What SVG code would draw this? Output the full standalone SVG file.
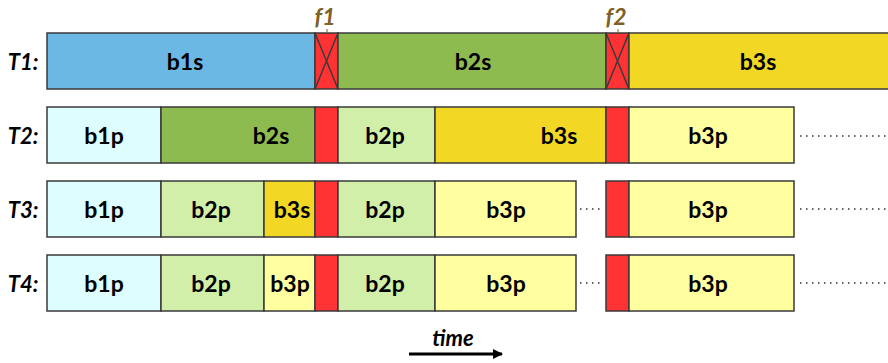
<svg xmlns="http://www.w3.org/2000/svg" width="888" height="363" viewBox="0 0 888 363">
<style>
.b{stroke:#3a3a3a;stroke-width:1.5}
.t{font-family:Lato,"Open Sans",sans-serif;font-weight:bold;font-size:23px;fill:#000;text-anchor:middle;dominant-baseline:central}
.rl{font-family:Lato,"Open Sans",sans-serif;font-weight:bold;font-style:italic;font-size:22px;fill:#000;text-anchor:middle;dominant-baseline:central}
.f{font-family:Lato,"Open Sans",sans-serif;font-weight:bold;font-style:italic;font-size:23px;fill:#7F6026;text-anchor:middle}
.cy{fill:#DDFDFF}.bl{fill:#6CB8E4}.dg{fill:#8DBB50}.lg{fill:#D2EFAA}.ye{fill:#F2D824}.ly{fill:#FFFF9F}.rd{fill:#FF3333}
.dot{stroke:#333;stroke-width:1.5;stroke-dasharray:1.5 4.5;fill:none}
</style>
<defs>
<marker id="ah" markerWidth="10" markerHeight="10" refX="9" refY="5" orient="auto" markerUnits="userSpaceOnUse"><path d="M0,0 L10,5 L0,10 z" fill="#000"/></marker>
</defs>
<g id="labels">
<text class="rl" x="23" y="61">T1:</text>
<text class="rl" x="23" y="135">T2:</text>
<text class="rl" x="23" y="209">T3:</text>
<text class="rl" x="23" y="283">T4:</text>
</g>
<g id="T1">
<rect class="b bl" x="47" y="33" width="268" height="56"/>
<text class="t" x="185" y="61">b1s</text>
<rect class="b rd" x="315" y="33" width="23" height="56"/>
<path class="b" d="M315,33 L338,89 M338,33 L315,89" fill="none"/>
<rect class="b dg" x="338" y="33" width="268" height="56"/>
<text class="t" x="473" y="61">b2s</text>
<rect class="b rd" x="606" y="33" width="23" height="56"/>
<path class="b" d="M606,33 L629,89 M629,33 L606,89" fill="none"/>
<rect class="b ye" x="629" y="33" width="262" height="56"/>
<text class="t" x="758" y="61">b3s</text>
</g>
<g id="faults">
<text class="f" x="325" y="25">f1</text>
<line x1="327" y1="29" x2="327" y2="33" stroke="#7F6026" stroke-width="1"/>
<text class="f" x="616" y="25">f2</text>
<line x1="618" y1="29" x2="618" y2="33" stroke="#7F6026" stroke-width="1"/>
</g>
<g id="T2">
<rect class="b cy" x="47" y="107" width="114" height="56"/>
<text class="t" x="104" y="135">b1p</text>
<rect class="b dg" x="161" y="107" width="154" height="56"/>
<text class="t" x="271" y="135">b2s</text>
<rect class="b rd" x="315" y="107" width="23" height="56"/>
<rect class="b lg" x="338" y="107" width="97" height="56"/>
<text class="t" x="385" y="135">b2p</text>
<rect class="b ye" x="435" y="107" width="171" height="56"/>
<text class="t" x="559" y="135">b3s</text>
<rect class="b rd" x="606" y="107" width="23" height="56"/>
<rect class="b ly" x="629" y="107" width="165" height="56"/>
<text class="t" x="708" y="135">b3p</text>
</g>
<g id="T3">
<rect class="b cy" x="47" y="181" width="114" height="56"/>
<text class="t" x="104" y="209">b1p</text>
<rect class="b lg" x="161" y="181" width="103" height="56"/>
<text class="t" x="211" y="209">b2p</text>
<rect class="b ye" x="264" y="181" width="51" height="56"/>
<text class="t" x="292" y="209">b3s</text>
<rect class="b rd" x="315" y="181" width="23" height="56"/>
<rect class="b lg" x="338" y="181" width="97" height="56"/>
<text class="t" x="385" y="209">b2p</text>
<rect class="b ly" x="435" y="181" width="141" height="56"/>
<text class="t" x="506" y="209">b3p</text>
<rect class="b rd" x="606" y="181" width="23" height="56"/>
<rect class="b ly" x="629" y="181" width="165" height="56"/>
<text class="t" x="708" y="209">b3p</text>
</g>
<g id="T4">
<rect class="b cy" x="47" y="255" width="114" height="56"/>
<text class="t" x="104" y="283">b1p</text>
<rect class="b lg" x="161" y="255" width="103" height="56"/>
<text class="t" x="211" y="283">b2p</text>
<rect class="b ly" x="264" y="255" width="51" height="56"/>
<text class="t" x="290" y="283">b3p</text>
<rect class="b rd" x="315" y="255" width="23" height="56"/>
<rect class="b lg" x="338" y="255" width="97" height="56"/>
<text class="t" x="385" y="283">b2p</text>
<rect class="b ly" x="435" y="255" width="141" height="56"/>
<text class="t" x="506" y="283">b3p</text>
<rect class="b rd" x="606" y="255" width="23" height="56"/>
<rect class="b ly" x="629" y="255" width="165" height="56"/>
<text class="t" x="708" y="283">b3p</text>
</g>
<g id="connectors">
<line class="dot" x1="800" y1="136" x2="888" y2="136"/>
<line class="dot" x1="580" y1="209" x2="604" y2="209"/>
<line class="dot" x1="800" y1="209" x2="888" y2="209"/>
<line class="dot" x1="580" y1="283" x2="604" y2="283"/>
<line class="dot" x1="800" y1="283" x2="888" y2="283"/>
<line x1="409" y1="354" x2="502" y2="354" stroke="#000" stroke-width="3" marker-end="url(#ah)"/>
</g>
<g id="time">
<text x="453" y="346" font-family="Lato,'Open Sans',sans-serif" font-weight="bold" font-style="italic" font-size="22" text-anchor="middle" fill="#000">time</text>
</g>
</svg>
